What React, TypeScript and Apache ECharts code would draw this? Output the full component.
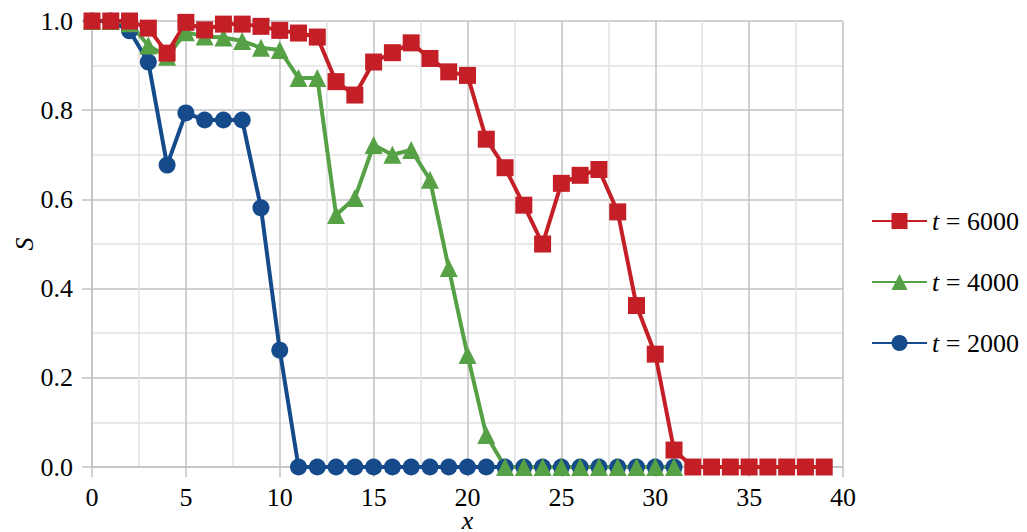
import React, { useEffect, useRef } from "react";
import * as echarts from "echarts";

const xValues: number[] = Array.from({ length: 40 }, (_, i) => i);

const seriesNames = ["t = 6000", "t = 4000", "t = 2000"];

const s6000: number[] = [
  1.0, 1.0, 1.0, 0.984, 0.928, 0.997, 0.98, 0.993, 0.993, 0.988,
  0.979, 0.973, 0.964, 0.864, 0.834, 0.908, 0.929, 0.951, 0.916, 0.886,
  0.878, 0.735, 0.671, 0.587, 0.5, 0.636, 0.654, 0.667, 0.572, 0.362,
  0.253, 0.038, 0, 0, 0, 0, 0, 0, 0, 0,
];

const s4000: number[] = [
  1.0, 1.0, 0.995, 0.945, 0.92, 0.975, 0.965, 0.963, 0.955, 0.94,
  0.935, 0.872, 0.872, 0.565, 0.603, 0.722, 0.7, 0.711, 0.644, 0.446,
  0.251, 0.072, 0, 0, 0, 0, 0, 0, 0, 0,
  0, 0,
];

const s2000: number[] = [
  1.0, 1.0, 0.978, 0.908, 0.677, 0.794, 0.778, 0.778, 0.778, 0.581,
  0.262, 0, 0, 0, 0, 0, 0, 0, 0, 0,
  0, 0, 0, 0, 0, 0, 0, 0, 0, 0,
  0, 0,
];

const xTicks = { min: 0, max: 40, interval: 5 };
const yTicks = { min: 0, max: 1, interval: 0.2 };

const RED = "#c41f26";
const GREEN = "#56a145";
const BLUE = "#154b8b";
const FONT = "Liberation Serif";

export default function App() {
  const ref = useRef<HTMLDivElement>(null);
  useEffect(() => {
    if (!ref.current) return;
    const chart = echarts.init(ref.current, undefined, { renderer: "svg" });
    const pairs = (arr: number[]) => arr.map((v, i) => [xValues[i], v]);
    const major = "#c2c2c2";
    const minor = "#e2e2e2";
    const mkSeries = (name: string, data: number[], color: string, symbol: string, size: number) => ({
      name,
      type: "line",
      data: pairs(data),
      symbol,
      symbolSize: size,
      lineStyle: { color, width: 4 },
      itemStyle: { color },
      emphasis: { disabled: true },
    });
    chart.setOption({
      animation: false,
      grid: {
        left: 92,
        top: 21,
        right: 184,
        bottom: 65,
        containLabel: false,
        outerBoundsMode: "none",
      },
      legend: {
        orient: "vertical",
        left: 866,
        top: 203,
        itemWidth: 55,
        itemHeight: 20,
        itemGap: 35,
        data: seriesNames,
        formatter: (name: string) => `{it|t} = ${name.split("= ")[1]}`,
        textStyle: {
          fontFamily: FONT,
          fontSize: 26,
          color: "#000",
          lineHeight: 26,
          rich: {
            it: { fontFamily: FONT, fontSize: 26, fontStyle: "italic", color: "#000" },
          },
        },
      },
      xAxis: {
        type: "value",
        min: xTicks.min,
        max: xTicks.max,
        interval: xTicks.interval,
        name: "x",
        nameLocation: "middle",
        nameGap: 42,
        nameMoveOverlap: false,
        nameTextStyle: {
          fontFamily: FONT,
          fontSize: 26,
          lineHeight: 22,
          fontStyle: "italic",
          color: "#000",
        },
        axisLine: { show: true, lineStyle: { color: major, width: 1.5 } },
        axisTick: { show: true, length: 10, lineStyle: { color: major, width: 1.5 } },
        axisLabel: { fontFamily: FONT, fontSize: 26, lineHeight: 22, color: "#000", margin: 19 },
        splitLine: { show: true, lineStyle: { color: major, width: 1.5 } },
        minorTick: { show: false, splitNumber: 2 },
        minorSplitLine: { show: true, lineStyle: { color: minor, width: 1.5 } },
      },
      yAxis: {
        type: "value",
        min: yTicks.min,
        max: yTicks.max,
        interval: yTicks.interval,
        name: "S",
        nameLocation: "middle",
        nameGap: 55,
        nameMoveOverlap: false,
        nameRotate: 90,
        nameTextStyle: { fontFamily: FONT, fontSize: 26, fontStyle: "italic", color: "#000" },
        axisLine: { show: true, lineStyle: { color: major, width: 1.5 } },
        axisTick: { show: true, length: 10, lineStyle: { color: major, width: 1.5 } },
        axisLabel: {
          fontFamily: FONT,
          fontSize: 26,
          color: "#000",
          margin: 19,
          formatter: (v: number) => v.toFixed(1),
        },
        splitLine: { show: true, lineStyle: { color: major, width: 1.5 } },
        minorTick: { show: false, splitNumber: 2 },
        minorSplitLine: { show: true, lineStyle: { color: minor, width: 1.5 } },
      },
      series: [
        mkSeries(seriesNames[2], s2000, BLUE, "circle", 17),
        mkSeries(seriesNames[1], s4000, GREEN, "triangle", 18),
        mkSeries(seriesNames[0], s6000, RED, "rect", 17),
      ],
    });
    return () => chart.dispose();
  }, []);
  return (
    <div
      ref={ref}
      style={{ position: "fixed", left: 0, top: 0, width: 1027, height: 532, background: "#fff" }}
    />
  );
}
